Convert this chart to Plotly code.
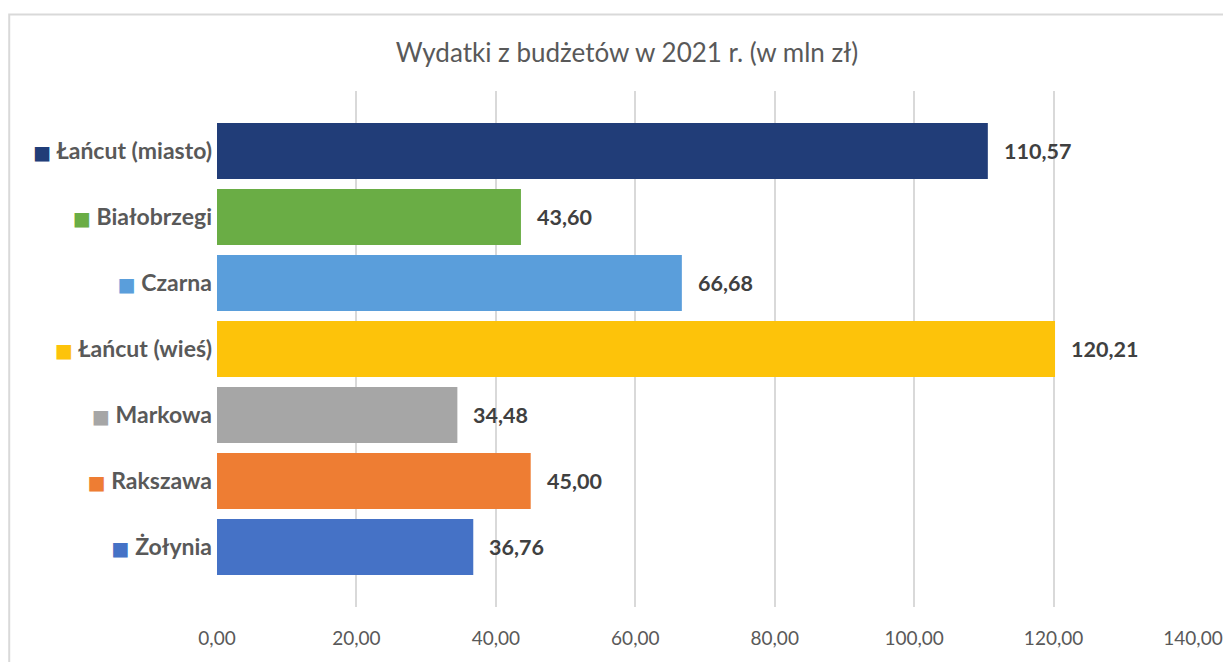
import plotly.graph_objects as go

categories = ["Łańcut (miasto)", "Białobrzegi", "Czarna", "Łańcut (wieś)", "Markowa", "Rakszawa", "Żołynia"]
values = [110.57, 43.60, 66.68, 120.21, 34.48, 45.00, 36.76]
colors = ["#213d78", "#6aad45", "#5a9edb", "#fdc30a", "#a6a6a6", "#ee7d33", "#4572c6"]
x_ticks = [0, 20, 40, 60, 80, 100, 120, 140]
title_text = "Wydatki z budżetów w 2021 r. (w mln zł)"

# page body has an 8px default margin; positions below are in figure coords
W, H = 1231, 662
L, R, T, B = 208.5, 45.5, 83, 63
pw, ph = W - L - R, H - T - B

def fmt(v):
    return f"{v:.2f}".replace(".", ",")

ticktext = [f"<span style='color:{c};font-size:19px;font-family:DejaVu Sans'>■</span> {cat}"
            for cat, c in zip(categories, colors)]

fig = go.Figure()
fig.add_trace(go.Bar(
    x=values, y=categories, orientation="h",
    marker=dict(color=colors, line=dict(width=0)),
    hoverinfo="skip",
))

for cat, v in zip(categories, values):
    fig.add_annotation(x=v, y=cat, text=f"<b>{fmt(v)}</b>", showarrow=False,
                       xanchor="left", yanchor="middle", xshift=14,
                       font=dict(family="Lato", size=21.5, color="#404040"))

fig.add_shape(type="rect", xref="paper", yref="paper",
              x0=(0.5 - L) / pw, x1=1.3, y0=-0.3, y1=(T + ph - 6.5) / ph,
              line=dict(color="#d9d9d9", width=2), fillcolor="rgba(0,0,0,0)", layer="below")

fig.update_layout(
    width=W, height=H,
    margin=dict(l=L, r=R, t=T, b=B, pad=0, autoexpand=False),
    paper_bgcolor="white", plot_bgcolor="white",
    separators=", ",
    showlegend=False,
    bargap=0.15,
    title=dict(text=title_text, x=619 / W, xanchor="center", xref="container",
               y=1 - 45 / H, yanchor="middle", yref="container",
               font=dict(family="Lato", size=26, color="#595959")),
    xaxis=dict(range=[0, 140], tickvals=x_ticks, tickformat=".2f", automargin=False,
               showgrid=True, gridcolor="#d9d9d9", gridwidth=1.5, zeroline=False,
               showline=False, ticks="", ticklabelstandoff=18,
               tickfont=dict(family="Lato", size=19, color="#595959"), fixedrange=True),
    yaxis=dict(categoryorder="array", categoryarray=categories, automargin=False,
               tickvals=categories, ticktext=ticktext,
               range=[6.91, -0.91], showgrid=False, zeroline=False, showline=False,
               ticks="", ticklabelstandoff=4,
               tickfont=dict(family="Lato", size=23, color="#595959", weight="bold"),
               fixedrange=True),
)

fig.write_html("out.html")
